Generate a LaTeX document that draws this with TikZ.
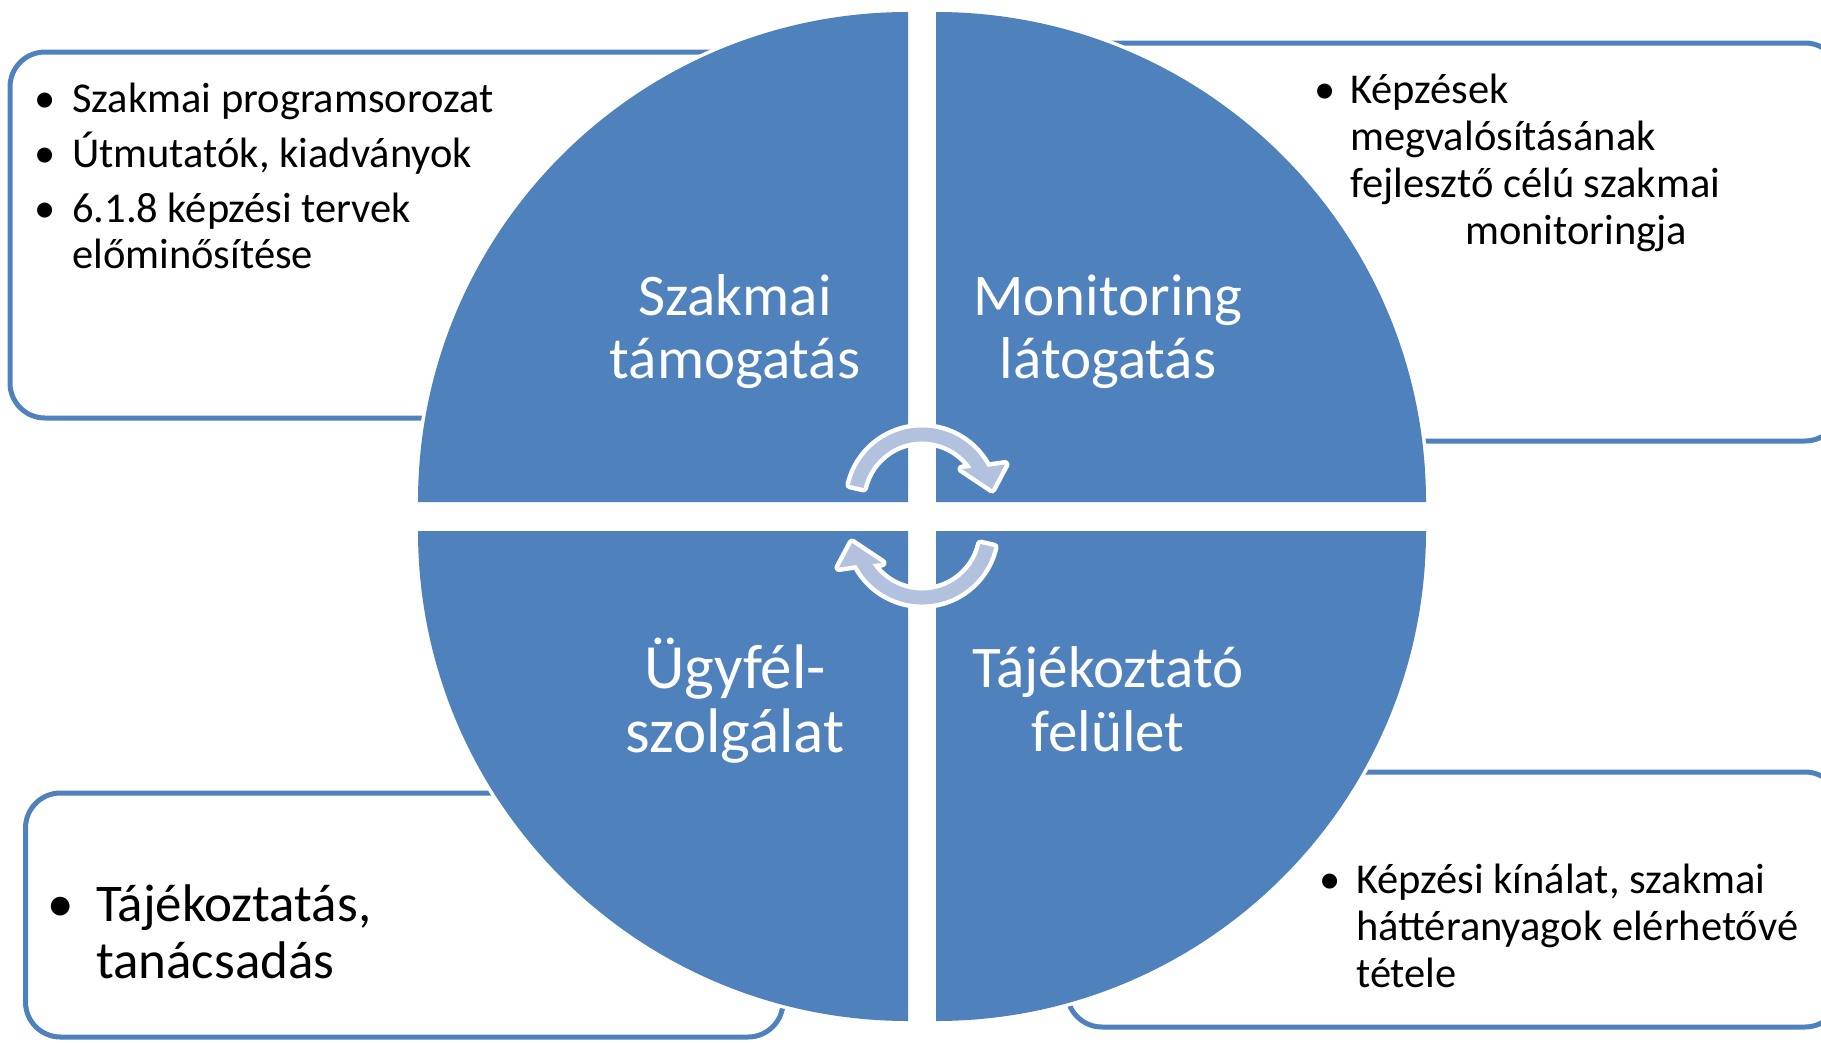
\documentclass[tikz,border=0pt]{standalone}
\usepackage{fontspec}
\setmainfont{Carlito}
\definecolor{qblue}{HTML}{4F81BD}
\definecolor{alight}{HTML}{B2C1DD}
\begin{document}
\begin{tikzpicture}[x=1pt,y=-1pt,
  infobox/.style={draw=qblue, line width=5pt, rounded corners=35pt, fill=white},
  quad/.style={fill=qblue, preaction={draw=white, line width=7pt}},
  qlab/.style={font=\fontsize{59}{64}\selectfont, text=white, anchor=base, inner sep=0pt},
  qlabbig/.style={qlab, font=\fontsize{63}{68}\selectfont},
  btxt/.style={font=\fontsize{42.5}{47}\selectfont, text=black, anchor=base west, inner sep=0pt},
  bul/.style={font=\fontsize{42.5}{47}\selectfont, text=black, anchor=base, inner sep=0pt},
  btxtbig/.style={font=\fontsize{53}{57}\selectfont, text=black, anchor=base west, inner sep=0pt},
  bulbig/.style={font=\fontsize{53}{57}\selectfont, text=black, anchor=base, inner sep=0pt},
  cyclearrow/.pic={
    \fill[alight, preaction={draw=white, line width=9pt, line join=round}]
      (193:74) arc[start angle=193, end angle=332.2, radius=74]
      -- (83,-37) -- (70,-12.5) -- (40,-32.5) -- (49.8,-33.5)
      arc[start angle=326.1, end angle=193, radius=60] -- cycle;
  }]
\useasboundingbox (0,0) rectangle (1821,1042);
\clip (0,0) rectangle (1821,1042);

% information boxes (behind the circle)
\draw[infobox] (10,52) rectangle (860,418);
\draw[infobox] (1000,43) rectangle (1840,441);
\draw[infobox] (25.5,793) rectangle (783,1037);
\draw[infobox] (1067,772) rectangle (1840,1027);

% quadrants
\fill[quad] (908,502) -- (418,502) arc[start angle=180, end angle=270, radius=490] -- cycle;
\fill[quad] (936,502) -- (936,12) arc[start angle=270, end angle=360, radius=490] -- cycle;
\fill[quad] (936,531) -- (1426,531) arc[start angle=0, end angle=90, radius=490] -- cycle;
\fill[quad] (908,531) -- (908,1021) arc[start angle=90, end angle=180, radius=490] -- cycle;

% quadrant labels
\node[qlab] (q1a) at (735,315) {Szakmai};
\node[qlab] (q1b) at (735,378) {támogatás};
\node[qlab] (q2a) at (1108,315) {Monitoring};
\node[qlab] (q2b) at (1108,378) {látogatás};
\node[qlabbig] (q3a) at (735,688) {Ügyfél-};
\node[qlabbig] (q3b) at (735,752) {szolgálat};
\node[qlab] (q4a) at (1108,687) {Tájékoztató};
\node[qlab] (q4b) at (1108,751) {felület};

% cycle arrows
\pic (arrT) at (922,501.5) {cyclearrow};
\pic[rotate=180] (arrB) at (922,530.5) {cyclearrow};

% top-left box text
\node[bul] (tlb1) at (45,112) {•};
\node[btxt] (tl1) at (72,112) {Szakmai programsorozat};
\node[bul] (tlb2) at (45,167) {•};
\node[btxt] (tl2) at (72,167) {Útmutatók, kiadványok};
\node[bul] (tlb3) at (45,222) {•};
\node[btxt] (tl3) at (72,222) {6.1.8 képzési tervek};
\node[btxt] (tl4) at (72,268) {előminősítése};

% top-right box text
\node[bul] (trb1) at (1325,103) {•};
\node[btxt] (tr1) at (1350,103) {Képzések};
\node[btxt] (tr2) at (1350,150) {megvalósításának};
\node[btxt] (tr3) at (1350,197) {fejlesztő célú szakmai};
\node[btxt] (tr4) at (1465,244) {monitoringja};

% bottom-left box text
\node[bulbig] (blb1) at (61,921) {•};
\node[btxtbig] (bl1) at (96,921) {Tájékoztatás,};
\node[btxtbig] (bl2) at (96,978) {tanácsadás};

% bottom-right box text
\node[bul] (brb1) at (1330,893) {•};
\node[btxt] (br1) at (1356,893) {Képzési kínálat, szakmai};
\node[btxt] (br2) at (1356,940) {háttéranyagok elérhetővé};
\node[btxt] (br3) at (1356,987) {tétele};
\end{tikzpicture}
\end{document}
